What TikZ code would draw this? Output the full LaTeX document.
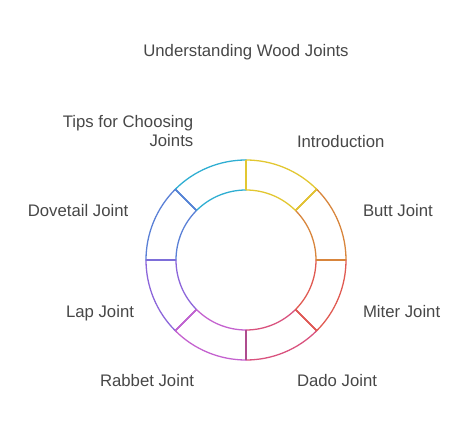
\documentclass[tikz,border=0pt]{standalone}
\usepackage{fontspec}
\setmainfont{Liberation Sans}
\usepackage{tikz}
\definecolor{labelgray}{HTML}{474747}
\definecolor{introcol}{HTML}{E2C731}
\definecolor{buttcol}{HTML}{D8853C}
\definecolor{mitercol}{HTML}{E05A52}
\definecolor{dadocol}{HTML}{D9527E}
\definecolor{rabbetcol}{HTML}{C462CF}
\definecolor{lapcol}{HTML}{8C66DA}
\definecolor{dovecol}{HTML}{5A80D6}
\definecolor{tipscol}{HTML}{2FAED2}
\newcommand{\outerR}{100bp}
\newcommand{\innerR}{70bp}
\tikzstyle{sector}=[line width=1.3bp, line join=round]
\tikzstyle{divider}=[line width=1.6bp]
\tikzstyle{jointlabel}=[inner sep=0, outer sep=0, text=labelgray, font=\fontsize{16.8}{19.4}\selectfont]
\tikzstyle{jointring}=[x=1bp, y=1bp,
                       % Fix the frame to the reference size.
                       execute at begin picture={\useasboundingbox (-246bp, -172bp) rectangle (226bp, 260bp);}]
\begin{document}
\begin{tikzpicture}[jointring]
        % Ring sectors, clockwise from the top.
        \draw[sector, introcol]  (90:\outerR)   arc (90:45:\outerR)     -- (45:\innerR)   arc (45:90:\innerR)     -- cycle;
        \draw[sector, buttcol]   (45:\outerR)   arc (45:0:\outerR)      -- (0:\innerR)    arc (0:45:\innerR)      -- cycle;
        \draw[sector, mitercol]  (0:\outerR)    arc (0:-45:\outerR)     -- (-45:\innerR)  arc (-45:0:\innerR)     -- cycle;
        \draw[sector, dadocol]   (-45:\outerR)  arc (-45:-90:\outerR)   -- (-90:\innerR)  arc (-90:-45:\innerR)   -- cycle;
        \draw[sector, rabbetcol] (-90:\outerR)  arc (-90:-135:\outerR)  -- (-135:\innerR) arc (-135:-90:\innerR)  -- cycle;
        \draw[sector, lapcol]    (-135:\outerR) arc (-135:-180:\outerR) -- (-180:\innerR) arc (-180:-135:\innerR) -- cycle;
        \draw[sector, dovecol]   (180:\outerR)  arc (180:135:\outerR)   -- (135:\innerR)  arc (135:180:\innerR)   -- cycle;
        \draw[sector, tipscol]   (135:\outerR)  arc (135:90:\outerR)    -- (90:\innerR)   arc (90:135:\innerR)    -- cycle;
        % Dividers between sectors.
        \draw[divider, introcol]         (90:\innerR)   -- (90:\outerR);
        \draw[divider, introcol]         (45:\innerR)   -- (45:\outerR);
        \draw[divider, buttcol]          (0:\innerR)    -- (0:\outerR);
        \draw[divider, mitercol]         (-45:\innerR)  -- (-45:\outerR);
        \draw[divider, dadocol!50!rabbetcol!85!black] (-90:\innerR) -- (-90:\outerR);
        \draw[divider, rabbetcol]        (-135:\innerR) -- (-135:\outerR);
        \draw[divider, lapcol!70!dovecol] (180:\innerR) -- (180:\outerR);
        \draw[divider, dovecol]          (135:\innerR)  -- (135:\outerR);
        % Labels.
        \node[jointlabel, anchor=base]      (T)  at (0, 203.3)      {Understanding Wood Joints};
        \node[jointlabel, anchor=base west] (L1) at (51, 112.7)     {Introduction};
        \node[jointlabel, anchor=base west] (L2) at (117, 43.3)     {Butt Joint};
        \node[jointlabel, anchor=base west] (L3) at (117, -57.3)    {Miter Joint};
        \node[jointlabel, anchor=base west] (L4) at (51, -126.7)    {Dado Joint};
        \node[jointlabel, anchor=base east] (L5) at (-52, -126.7)   {Rabbet Joint};
        \node[jointlabel, anchor=base east] (L6) at (-112, -57.3)   {Lap Joint};
        \node[jointlabel, anchor=base east] (L7) at (-117.7, 43.3)  {Dovetail Joint};
        \node[jointlabel, anchor=base east, align=right] (L8) at (-52.7, 113.3) {Tips for Choosing\\Joints};
    \end{tikzpicture}
\end{document}
